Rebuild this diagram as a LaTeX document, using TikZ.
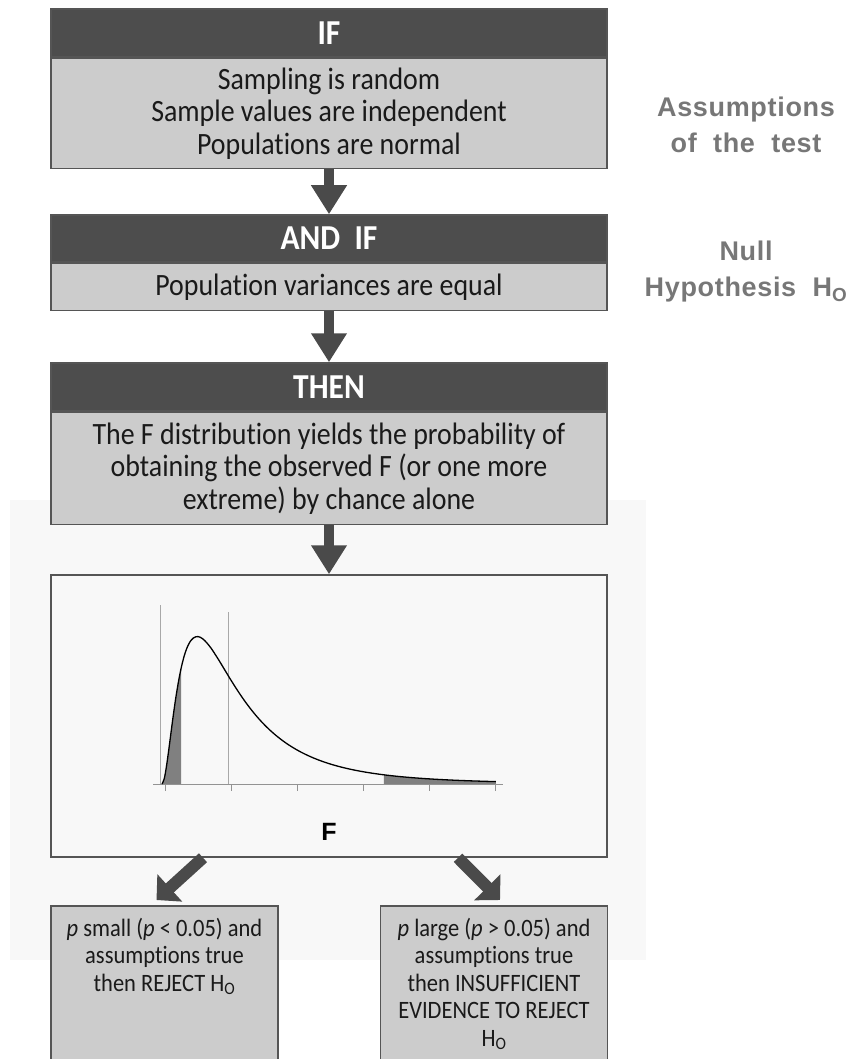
\documentclass[tikz,border=0pt]{standalone}
\usepackage{fontspec}
\setmainfont{Carlito}
\newfontfamily\boxfont[FakeStretch=0.9, Ligatures=NoCommon]{Carlito}
\newfontfamily\lblfont[LetterSpace=2.5]{Liberation Sans}
\newfontfamily\axisfont{Liberation Sans}
\usetikzlibrary{arrows.meta, positioning}

\definecolor{headgray}{HTML}{4D4D4D}
\definecolor{bodygray}{HTML}{CCCCCC}
\definecolor{edgegray}{HTML}{555555}
\definecolor{arrowgray}{HTML}{4A4A4A}
\definecolor{bgfaint}{HTML}{F8F8F8}
\definecolor{lblgray}{HTML}{777777}
\definecolor{shadegray}{HTML}{808080}
\definecolor{guidegray}{HTML}{A8A8A8}
\definecolor{bodytext}{HTML}{1A1A1A}

\tikzset{
  headbox/.style={fill=headgray, draw=edgegray, line width=1.5pt, minimum width=556pt,
    minimum height=48pt, inner sep=0pt, text=white, font=\boxfont\bfseries\fontsize{35}{38}\selectfont},
  bodybox/.style={fill=bodygray, draw=edgegray, line width=1.5pt, minimum width=556pt,
    inner sep=0pt, align=center, text=bodytext, font=\boxfont\fontsize{31}{32.5}\selectfont},
  plotbox/.style={fill=bgfaint, draw=edgegray, line width=1.5pt, minimum width=556pt,
    minimum height=282pt, inner sep=0pt},
  resbox/.style={fill=bodygray, draw=edgegray, line width=1.5pt, anchor=north, inner sep=0pt,
    text=bodytext, font=\boxfont\fontsize{25}{27.5}\selectfont},
  sidelbl/.style={text=lblgray, align=center, font=\lblfont\bfseries\fontsize{27}{36}\selectfont},
  vArrow/.style={arrowgray, line width=10pt, -{Triangle[width=34pt,length=29pt]}},
  dArrow/.style={arrowgray, line width=12pt, -{Triangle[width=36pt,length=18pt]}},
  guide/.style={guidegray, line width=0.8pt},
  axisline/.style={draw=gray!85, line width=1pt},
  curve/.style={black, line width=1.3pt},
  declare function={fdens(\t)=5465*(\t/(1+0.75*\t))*(\t/(1+0.75*\t))/((1+0.75*\t)^5);}
}

\begin{document}
\begin{tikzpicture}[x=1pt, y=-1pt]
\useasboundingbox (0,0) rectangle (859,1059);
% faint panel behind the plot
\fill[bgfaint] (10,500) rectangle (646,960);

% IF block
\node[headbox] (ifhead) at (329,33) {IF};
\node[bodybox, minimum height=110pt, below=0pt of ifhead] (ifbody)
  {Sampling is random\\Sample values are independent\\Populations are normal};

% AND IF block
\node[headbox, minimum height=47pt] (andhead) at (329,238.5) {AND\ \ IF};
\node[bodybox, minimum height=47pt, below=0pt of andhead] (andbody)
  {Population variances are equal};

% THEN block
\node[headbox] (thenhead) at (329,387) {THEN};
\node[bodybox, minimum height=112pt, below=0pt of thenhead] (thenbody)
  {The F distribution yields the probability of\\obtaining the observed F (or one more\\extreme) by chance alone};

% side labels
\node[sidelbl] (assumlbl) at (746,125) {Assumptions\\of\ \ the\ \ test};
\node[sidelbl] (nulllbl) at (746,272) {Null\\Hypothesis\ \ H\textsubscript{O}};

% plot panel
\node[plotbox] (plotbox) at (329,716) {};
\draw[guide] (160,605) -- (160,784);
\draw[guide] (228,612) -- (228,784);
\fill[shadegray] (162,784) -- plot[domain=0:0.288, samples=20] ({162+66*\x},{784-fdens(\x)}) -- (181,784) -- cycle;
\fill[shadegray] (384,784) -- plot[domain=3.36:5.06, samples=30] ({162+66*\x},{784-fdens(\x)}) -- (496,784) -- cycle;
\draw[axisline] (153,784) -- (503,784);
\foreach \k in {0,...,5}
  \draw[axisline] ({165+66*\k},784) -- ({165+66*\k},791);
\draw[curve] plot[domain=0:5.06, samples=150, smooth] ({162+66*\x},{784-fdens(\x)});
\node[font=\axisfont\bfseries\fontsize{25}{25}\selectfont] (flabel) at (329,832) {F};

% outcomes
\node[resbox] (smallres) at (164.5,905) {\parbox[t][180pt][t]{227pt}{\vspace*{12pt}\centering
  \textit{p} small (\textit{p} < 0.05) and\\assumptions true\\then REJECT H\textsubscript{O}\par}};
\node[resbox] (largeres) at (494,905) {\parbox[t][180pt][t]{227pt}{\vspace*{12pt}\centering
  \textit{p} large (\textit{p} > 0.05) and\\assumptions true\\then INSUFFICIENT\\EVIDENCE TO REJECT\\H\textsubscript{O}\par}};

% arrows
\draw[vArrow] (ifbody.south) -- (andhead.north);
\draw[vArrow] (andbody.south) -- (thenhead.north);
\draw[vArrow] (thenbody.south) -- (plotbox.north);
\draw[dArrow] ([xshift=-126pt]plotbox.south) -- ([xshift=-8pt,yshift=5pt]smallres.north);
\draw[dArrow] ([xshift=129pt]plotbox.south) -- ([xshift=6pt,yshift=5pt]largeres.north);
\end{tikzpicture}
\end{document}
